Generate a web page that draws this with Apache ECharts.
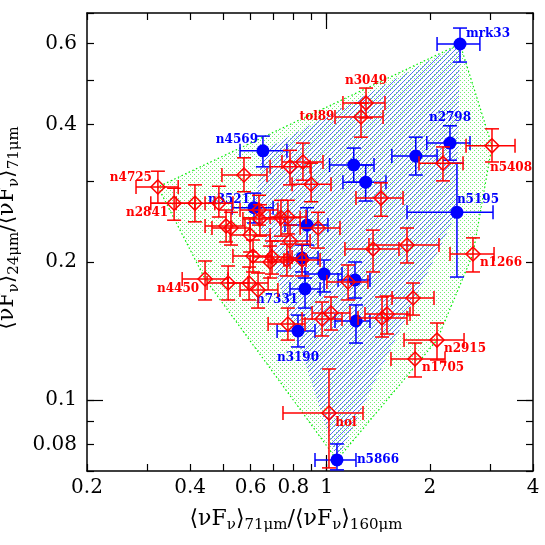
<!DOCTYPE html>
<html><head><meta charset="utf-8">
<script src="https://cdn.jsdelivr.net/npm/echarts@6/dist/echarts.min.js"></script>
<style>html,body{margin:0;padding:0;background:#fff}#c{width:545px;height:545px}</style>
</head><body><div id="c"></div>
<script>
// ---- data ----
const xTicks = [0.2,0.3,0.4,0.5,0.6,0.7,0.8,0.9,1,2,3,4];
const xTickLabels = [0.2,0.4,0.6,0.8,1,2,4];
const xMajor = [1];
const yTicks = [0.07,0.08,0.09,0.1,0.2,0.3,0.4,0.5,0.6,0.7];
const yTickLabels = [0.08,0.1,0.2,0.4,0.6];
const yMajor = [0.1];

const blueNames = ['mrk33','n2798','','','','n4569','n3521','n5195','','','','','n7331','n3190','','n5866'];
const blueX   = [2.45,2.29,1.82,1.20,1.30,0.652,0.614,2.40,0.877,0.848,0.983,1.21,0.865,0.825,1.218,1.072];
const blueY   = [0.599,0.364,0.341,0.326,0.299,0.350,0.263,0.257,0.241,0.2043,0.1884,0.1829,0.1748,0.1415,0.1488,0.0740];
const blueXLo = [2.10,1.96,1.55,1.02,1.116,0.559,0.530,1.716,0.756,0.771,0.865,1.08,0.782,0.717,1.058,0.925];
const blueXHi = [2.80,2.62,2.10,1.375,1.49,0.766,0.698,3.058,1.009,0.944,1.109,1.338,0.957,0.925,1.338,1.218];
const blueYLo = [0.547,0.334,0.310,0.299,0.272,0.323,0.2436,0.1856,0.218,0.1904,0.1722,0.1670,0.1588,0.1306,0.1332,0.0704];
const blueYHi = [0.649,0.397,0.375,0.355,0.326,0.377,0.283,0.329,0.263,0.218,0.2022,0.2002,0.1847,0.1533,0.1613,0.0802];

const redNames = ['n3049','tol89','n5408','','','','','','','n4725','n2841','','','','','','','','','','','','','','','','','n4450','','','','','','','','','','','','','n1266','n2915','n1705','hol'];
const redX   = [1.303,1.26,3.037,2.185,0.853,0.782,0.901,0.574,1.441,0.322,0.359,0.413,0.485,0.635,0.639,0.736,0.771,0.944,0.509,0.526,0.598,0.782,0.610,0.693,0.684,0.766,0.848,0.442,0.516,0.594,0.631,0.771,0.970,1.030,1.155,1.366,1.716,1.787,1.451,1.500,2.673,2.099,1.811,1.016];
const redY   = [0.445,0.415,0.359,0.329,0.331,0.323,0.296,0.310,0.276,0.292,0.269,0.269,0.269,0.260,0.2485,0.250,0.251,0.2375,0.240,0.2375,0.2293,0.2225,0.2063,0.2053,0.2002,0.2022,0.2022,0.1838,0.1801,0.1801,0.1739,0.1466,0.1503,0.1549,0.1810,0.2137,0.218,0.1670,0.1511,0.1541,0.2084,0.1352,0.1229,0.0937];
const redXLo = [1.116,1.058,2.551,1.86,0.741,0.684,0.793,0.495,1.218,0.278,0.307,0.364,0.442,0.559,0.570,0.648,0.684,0.837,0.442,0.463,0.523,0.684,0.533,0.610,0.598,0.675,0.751,0.379,0.448,0.516,0.559,0.675,0.848,0.907,1.002,1.131,1.329,1.552,1.235,1.294,2.291,1.682,1.541,0.746];
const redXHi = [1.48,1.461,3.545,2.50,0.976,0.895,1.03,0.670,1.671,0.369,0.413,0.472,0.533,0.721,0.731,0.837,0.871,1.094,0.578,0.598,0.684,0.895,0.693,0.793,0.782,0.871,0.957,0.516,0.590,0.675,0.721,0.865,1.109,1.170,1.32,1.626,2.127,2.057,1.716,1.751,3.079,2.517,2.215,1.277];
const redYLo = [0.413,0.375,0.331,0.301,0.302,0.295,0.271,0.285,0.252,0.269,0.247,0.245,0.251,0.241,0.228,0.228,0.2305,0.2147,0.2214,0.218,0.2105,0.2043,0.1904,0.1884,0.1847,0.1866,0.1866,0.1654,0.1654,0.1654,0.1588,0.1352,0.1380,0.1422,0.1654,0.1904,0.1992,0.1533,0.1373,0.1394,0.1904,0.1223,0.1123,0.0711];
const redYHi = [0.480,0.445,0.391,0.357,0.364,0.351,0.329,0.338,0.298,0.316,0.290,0.295,0.293,0.280,0.267,0.273,0.273,0.257,0.260,0.257,0.250,0.241,0.2236,0.2225,0.2169,0.219,0.219,0.2012,0.1962,0.1952,0.1894,0.1588,0.1637,0.1679,0.1972,0.235,0.2375,0.1801,0.1679,0.1687,0.226,0.1473,0.1332,0.1169];

// ---- layout / style config ----
const labelOffsets = {mrk33:[28,-10], n2798:[0,-25], n5195:[21,-12], n4569:[-26,-11], n3521:[-25,-8], n7331:[-28,11], n3190:[0,27], n5866:[41,0],
  n3049:[0,-22], tol89:[-44,0], n5408:[19,22], n4725:[-27,-9], n2841:[-27,10], n4450:[-27,10], n1266:[28,9], n2915:[28,9], n1705:[28,9], hol:[17,10]};
const RED = '#ff0000', BLUE = '#0000ff';

function makePattern(kind){
  const cv = document.createElement('canvas');
  if (kind === 'dots'){
    cv.width = 4; cv.height = 4;
    const g = cv.getContext('2d');
    g.fillStyle = 'rgba(0,220,0,0.55)';
    g.fillRect(0,0,1,1); g.fillRect(2,2,1,1);
  } else {
    cv.width = 5; cv.height = 5;
    const g = cv.getContext('2d');
    g.strokeStyle = 'rgba(50,80,255,0.8)'; g.lineWidth = 1;
    for (const o of [-5,0,5]){ g.beginPath(); g.moveTo(o,5); g.lineTo(o+5,0); g.stroke(); }
  }
  return {image: cv, repeat: 'repeat'};
}

function hull(pts){
  const p = pts.map(q=>[Math.log10(q[0]),Math.log10(q[1]),q]).sort((a,b)=>a[0]-b[0]||a[1]-b[1]);
  const cross=(o,a,b)=>(a[0]-o[0])*(b[1]-o[1])-(a[1]-o[1])*(b[0]-o[0]);
  const lo=[], up=[];
  for (const q of p){ while(lo.length>=2&&cross(lo[lo.length-2],lo[lo.length-1],q)<=0) lo.pop(); lo.push(q); }
  for (let i=p.length-1;i>=0;i--){ const q=p[i]; while(up.length>=2&&cross(up[up.length-2],up[up.length-1],q)<=0) up.pop(); up.push(q); }
  up.pop(); lo.pop();
  return lo.concat(up).map(q=>q[2]);
}

const bluePts = blueX.map((x,i)=>[x,blueY[i]]);
const redPts = redX.map((x,i)=>[x,redY[i]]);
const hullAll = hull(bluePts.concat(redPts));
const hullBlue = hull(bluePts);

function errData(X,Y,XL,XH,YL,YH){ return X.map((x,i)=>[x,Y[i],XL[i],XH[i],YL[i],YH[i]]); }
function errRender(color){
  return function(params, api){
    const x=api.value(0), y=api.value(1);
    const L=api.coord([api.value(2),y]), R=api.coord([api.value(3),y]);
    const B=api.coord([x,api.value(4)]), T=api.coord([x,api.value(5)]);
    const c=7, st={stroke:color, lineWidth:1.5};
    const seg=(x1,y1,x2,y2)=>({type:'line', shape:{x1,y1,x2,y2}, style:st});
    return {type:'group', children:[
      seg(L[0],L[1],R[0],R[1]), seg(T[0],T[1],B[0],B[1]),
      seg(L[0],L[1]-c,L[0],L[1]+c), seg(R[0],R[1]-c,R[0],R[1]+c),
      seg(T[0]-c,T[1],T[0]+c,T[1]), seg(B[0]-c,B[1],B[0]+c,B[1])]};
  };
}
function pointData(names,X,Y,color){
  return X.map((x,i)=>{
    const n=names[i], o=labelOffsets[n];
    const d={value:[x,Y[i]], name:n};
    if (o) d.label={show:true, position:'inside', offset:o, formatter:n, color:color,
      fontFamily:'DejaVu Serif', fontSize:12, fontWeight:'bold', align:'center', verticalAlign:'middle'};
    return d;
  });
}

const fmt = v => String(+(+v).toPrecision(3));
const axLine = {show:true, onZero:false, lineStyle:{color:'#000', width:1.5}};
function xAx(pos, major){
  return {type:'log', logBase:10, min:0.2, max:4, position:pos, gridIndex:0,
    axisLine: major ? {show:false, onZero:false} : axLine,
    axisTick:{show:true, inside:true, length: major?16:7, customValues: major?xMajor:xTicks, lineStyle:{color:'#000', width:1.2}},
    axisLabel:(pos==='bottom'&&!major)?{show:true, customValues:xTickLabels, formatter:fmt, fontFamily:'DejaVu Serif', fontSize:20, color:'#000', margin:7}:{show:false},
    splitLine:{show:false}, minorTick:{show:false}};
}
function yAx(pos, major){
  return {type:'log', logBase:10, min:0.07, max:0.7, position:pos, gridIndex:0,
    axisLine: major ? {show:false, onZero:false} : axLine,
    axisTick:{show:true, inside:true, length: major?16:7, customValues: major?yMajor:yTicks, lineStyle:{color:'#000', width:1.2}},
    axisLabel:(pos==='left'&&!major)?{show:true, customValues:yTickLabels, formatter:fmt, fontFamily:'DejaVu Serif', fontSize:20, color:'#000', margin:10}:{show:false},
    splitLine:{show:false}, minorTick:{show:false}};
}
const xs=[xAx('bottom',false), xAx('top',false), xAx('bottom',true), xAx('top',true)];
const ys=[yAx('left',false), yAx('right',false), yAx('left',true), yAx('right',true)];
const rich = {
  m:{fontFamily:'DejaVu Serif', fontSize:22, color:'#000', lineHeight:28},
  s:{fontFamily:'DejaVu Serif', fontSize:15, color:'#000', lineHeight:15, padding:[13,0,0,0], verticalAlign:'bottom'}
};
xs[0].name = '{m|⟨νF}{s|ν}{m|⟩}{s|71μm}{m|/⟨νF}{s|ν}{m|⟩}{s|160μm}';
xs[0].nameLocation='middle'; xs[0].nameGap=34; xs[0].nameTextStyle={rich, padding:[0,28,0,0]};
ys[0].name = '{m|⟨νF}{s|ν}{m|⟩}{s|24μm}{m|/⟨νF}{s|ν}{m|⟩}{s|71μm}';
ys[0].nameLocation='middle'; ys[0].nameGap=50; ys[0].nameRotate=90; ys[0].nameTextStyle={rich, padding:[0,0,0,28]};

const chart = echarts.init(document.getElementById('c'), null, {renderer:'canvas'});
chart.setOption({
  animation:false,
  backgroundColor:'#fff',
  grid:{left:87, right:12, top:13, bottom:74, containLabel:false, outerBoundsMode:'none'},
  xAxis: xs, yAxis: ys,
  series:[
    {type:'custom', silent:true, clip:true, z:1, data:[[1,0.2]],
      renderItem:(p,api)=>({type:'polygon', shape:{points:hullAll.map(q=>api.coord(q))},
        style:{fill:makePattern('dots'), stroke:'#00ee00', lineWidth:1.2, lineDash:[1.5,2.5]}})},
    {type:'custom', silent:true, clip:true, z:2, data:[[1,0.2]],
      renderItem:(p,api)=>({type:'polygon', shape:{points:hullBlue.map(q=>api.coord(q))},
        style:{fill:makePattern('hatch'), stroke:null}})},
    {type:'custom', silent:true, clip:true, z:3, data:errData(blueX,blueY,blueXLo,blueXHi,blueYLo,blueYHi),
      encode:{x:[0,2,3], y:[1,4,5]}, renderItem:errRender(BLUE)},
    {type:'scatter', silent:true, z:4, symbol:'circle', symbolSize:13, itemStyle:{color:BLUE, opacity:1},
      data:pointData(blueNames,blueX,blueY,BLUE)},
    {type:'custom', silent:true, clip:true, z:5, data:errData(redX,redY,redXLo,redXHi,redYLo,redYHi),
      encode:{x:[0,2,3], y:[1,4,5]}, renderItem:errRender(RED)},
    {type:'scatter', silent:true, z:6, symbol:'diamond', symbolSize:14,
      itemStyle:{color:'rgba(0,0,0,0)', borderColor:RED, borderWidth:1.5, opacity:1},
      data:pointData(redNames,redX,redY,RED)}
  ]
});
</script></body></html>
